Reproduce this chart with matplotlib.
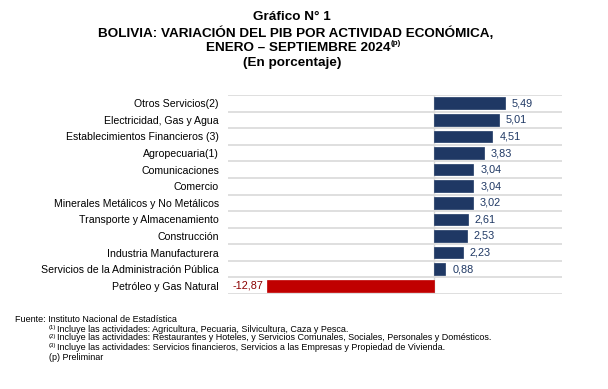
import matplotlib
matplotlib.use("Agg")
import matplotlib.pyplot as plt
import numpy as np

categories = [
    "Otros Servicios(2)",
    "Electricidad, Gas y Agua",
    "Establecimientos Financieros (3)",
    "Agropecuaria(1)",
    "Comunicaciones",
    "Comercio",
    "Minerales Metálicos y No Metálicos",
    "Transporte y Almacenamiento",
    "Construcción",
    "Industria Manufacturera",
    "Servicios de la Administración Pública",
    "Petróleo y Gas Natural",
]
values = [5.49, 5.01, 4.51, 3.83, 3.04, 3.04, 3.02, 2.61, 2.53, 2.23, 0.88, -12.87]

plt.rcParams['font.family'] = ['Liberation Sans', 'DejaVu Sans']

fig = plt.figure(figsize=(6.08, 3.89), dpi=100)
ax = fig.add_axes([228/608, 1-294/389, (562-228)/608, (294-95)/389])

n = len(categories)
y = np.arange(n)
colors = ["#1F3864" if v >= 0 else "#C00000" for v in values]
ax.barh(y, values, height=0.7, color=colors, edgecolor=colors, linewidth=0.5, zorder=3)

ax.set_xlim(-15.92, 9.89)
ax.set_ylim(n - 0.5, -0.5)

# gridlines at category boundaries
for b in np.arange(-0.5, n, 1.0):
    ax.axhline(b, color="#D9D9D9", linewidth=1.2, zorder=1)
ax.axvline(0, color="#D9D9D9", linewidth=1.0, zorder=2)

for s in ax.spines.values():
    s.set_visible(False)
ax.set_xticks([])
ax.set_yticks(y)
ax.set_yticklabels(categories, fontsize=7.6, color="#000000")
ax.tick_params(axis="y", length=0, pad=6.5)

for yi, v in zip(y, values):
    lab = f"{v:.2f}".replace(".", ",")
    if v >= 0:
        ax.annotate(lab, xy=(v, yi), xytext=(5, 0), textcoords="offset points",
                    ha="left", va="center", fontsize=7.8, color="#1F3864")
    else:
        ax.annotate(lab, xy=(v, yi), xytext=(-3, 0), textcoords="offset points",
                    ha="right", va="center", fontsize=7.8, color="#8B0000")

# Title
tfs = 9.7
fig.text(292/608, 1-17/389, "Gráfico N° 1", ha="center", va="center", fontsize=tfs, fontweight="bold")
fig.text(295.5/608, 1-33/389, "BOLIVIA: VARIACIÓN DEL PIB POR ACTIVIDAD ECONÓMICA,",
         ha="center", va="center", fontsize=tfs, fontweight="bold")
t3 = fig.text(298/608, 1-48/389, "ENERO – SEPTIEMBRE 2024", ha="center", va="center",
              fontsize=tfs, fontweight="bold")
fig.add_artist(matplotlib.text.Annotation(
    "(p)", xy=(1, 0.55), xycoords=t3, xytext=(0.5, 0), textcoords="offset points",
    ha="left", va="bottom", fontsize=5.8, fontweight="bold", annotation_clip=False))
fig.text(292/608, 1-63/389, "(En porcentaje)", ha="center", va="center", fontsize=tfs, fontweight="bold")

# Footnotes
fs = 6.5
fig.text(15/608, 1-320/389, "Fuente: Instituto Nacional de Estadística", ha="left", va="center", fontsize=fs)
notes = [
    ("(1)", "Incluye las actividades: Agricultura, Pecuaria, Silvicultura, Caza y Pesca."),
    ("(2)", "Incluye las actividades: Restaurantes y Hoteles, y Servicios Comunales, Sociales, Personales y Domésticos."),
    ("(3)", "Incluye las actividades: Servicios financieros, Servicios a las Empresas y Propiedad de Vivienda."),
]
ys = [329, 338, 347]
for (sup, txt), yy in zip(notes, ys):
    fig.text(49/608, 1-(yy-1.5)/389, sup, ha="left", va="center", fontsize=4.3)
    fig.text(57/608, 1-yy/389, txt, ha="left", va="center", fontsize=fs)
fig.text(49/608, 1-357/389, "(p) Preliminar", ha="left", va="center", fontsize=fs)

fig.savefig("out.png", dpi=100)
